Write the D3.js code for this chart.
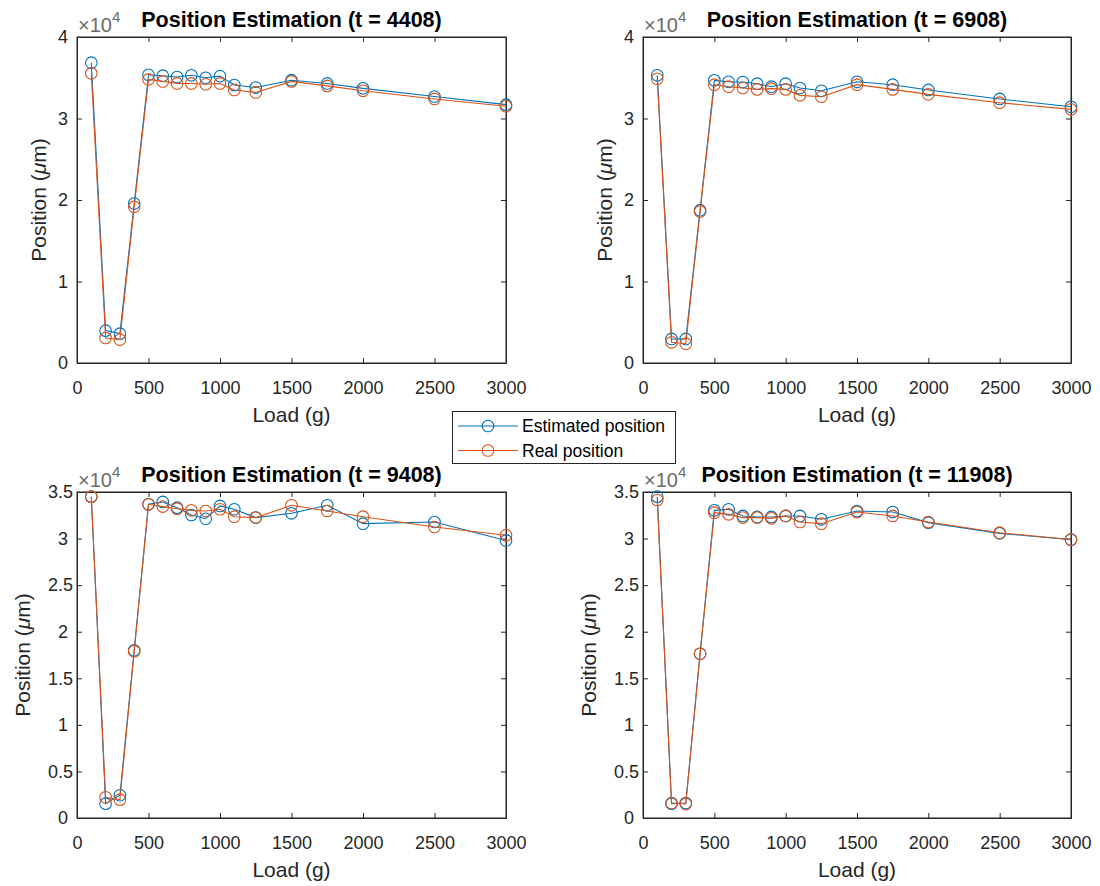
<!DOCTYPE html>
<html>
<head>
<meta charset="utf-8">
<script src="https://cdn.jsdelivr.net/npm/d3@7"></script>
<style>
  html, body { margin: 0; padding: 0; background: #fff; }
  svg { display: block; font-family: "Liberation Sans", Arial, Helvetica, sans-serif; }
</style>
</head>
<body>
<svg id="chart" width="1100" height="886"></svg>
<script>
// ---- data (positions in µm) ----
const loads = [100, 200, 300, 400, 500, 600, 700, 800, 900, 1000, 1100, 1250, 1500, 1750, 2000, 2500, 3000];

const titles = ["Position Estimation (t = 4408)", "Position Estimation (t = 6908)",
                "Position Estimation (t = 9408)", "Position Estimation (t = 11908)"];

const est4408  = [36850, 3970, 3600, 19570, 35370, 35250, 35090, 35300, 35000, 35200, 34100, 33800, 34700, 34300, 33700, 32700, 31700];
const real4408 = [35540, 3070, 2870, 19160, 34800, 34550, 34300, 34300, 34200, 34300, 33500, 33200, 34550, 34000, 33400, 32400, 31500];

const est6908  = [35300, 2950, 2950, 18750, 34680, 34500, 34470, 34270, 33900, 34270, 33740, 33400, 34500, 34150, 33500, 32400, 31440];
const real6908 = [34880, 2540, 2370, 18590, 34150, 33900, 33740, 33570, 33660, 33570, 32840, 32670, 34150, 33570, 32960, 31940, 31120];

const est9408  = [34500, 1540, 2440, 18000, 33680, 33930, 33320, 32530, 32130, 33500, 33150, 32250, 32710, 33570, 31600, 31780, 29800];
const real9408 = [34500, 2220, 1970, 17900, 33680, 33430, 33210, 33030, 32960, 33150, 32350, 32250, 33570, 32960, 32350, 31240, 30350];

const est11908  = [34500, 1540, 1610, 17630, 33030, 33140, 32430, 32320, 32320, 32430, 32430, 32070, 32960, 32850, 31710, 30560, 29880];
const real11908 = [34140, 1610, 1500, 17630, 32780, 32600, 32250, 32250, 32170, 32430, 31780, 31600, 32850, 32430, 31780, 30630, 29900];

const xTicks = [0, 500, 1000, 1500, 2000, 2500, 3000];
const yTicksTop = [0, 10000, 20000, 30000, 40000];
const yTicksBottom = [0, 5000, 10000, 15000, 20000, 25000, 30000, 35000];
const yMaxTop = 40000, yMaxBottom = 35000;

const seriesNames = ["Estimated position", "Real position"];
const xLabel = "Load (g)";

// ---- layout / style ----
const colors = ["#0072BD", "#D95319"];
const axisColor = "#262626";
const panels = [
  {x0: 77,  x1: 506,  y0: 37,  y1: 363, est: est4408,  real: real4408,  ticks: yTicksTop,    ymax: yMaxTop,    title: titles[0], lx: 46},
  {x0: 643, x1: 1071, y0: 37,  y1: 363, est: est6908,  real: real6908,  ticks: yTicksTop,    ymax: yMaxTop,    title: titles[1], lx: 612},
  {x0: 77,  x1: 506,  y0: 492, y1: 818, est: est9408,  real: real9408,  ticks: yTicksBottom, ymax: yMaxBottom, title: titles[2], lx: 30},
  {x0: 643, x1: 1071, y0: 492, y1: 818, est: est11908, real: real11908, ticks: yTicksBottom, ymax: yMaxBottom, title: titles[3], lx: 596}
];

const svg = d3.select("#chart");
const tickFont = 18, labelFont = 21, titleFont = 21.5, tickLen = 5, markerR = 5.8;
const fmt = v => String(+(v / 1e4).toFixed(2));

panels.forEach((p, i) => {
  const x = d3.scaleLinear().domain([0, 3000]).range([p.x0, p.x1]);
  const y = d3.scaleLinear().domain([0, p.ymax]).range([p.y1, p.y0]);
  const g = svg.append("g");

  // axis box
  g.append("rect").attr("x", p.x0).attr("y", p.y0)
    .attr("width", p.x1 - p.x0).attr("height", p.y1 - p.y0)
    .attr("fill", "#fff").attr("stroke", axisColor).attr("stroke-width", 1);

  // bottom axis (ticks inward), with labels
  const xAxis = d3.axisBottom(x).tickValues(xTicks).tickSizeInner(-tickLen).tickSizeOuter(0)
    .tickFormat(d3.format("d"));
  const gx = g.append("g").attr("transform", `translate(0,${p.y1})`).call(xAxis);
  // top mirror ticks
  const gxt = g.append("g").attr("transform", `translate(0,${p.y0})`)
    .call(d3.axisTop(x).tickValues(xTicks).tickSizeInner(-tickLen).tickSizeOuter(0).tickFormat(""));
  // left axis
  const yAxis = d3.axisLeft(y).tickValues(p.ticks).tickSizeInner(-tickLen).tickSizeOuter(0)
    .tickFormat(fmt);
  const gy = g.append("g").attr("transform", `translate(${p.x0},0)`).call(yAxis);
  // right mirror ticks
  const gyr = g.append("g").attr("transform", `translate(${p.x1},0)`)
    .call(d3.axisRight(y).tickValues(p.ticks).tickSizeInner(-tickLen).tickSizeOuter(0).tickFormat(""));

  [gx, gxt, gy, gyr].forEach(a => {
    a.select(".domain").attr("stroke", axisColor);
    a.selectAll(".tick line").attr("stroke", axisColor);
    a.selectAll(".tick text").attr("fill", axisColor).attr("font-size", tickFont)
      .attr("font-family", "Liberation Sans, Arial, sans-serif");
  });
  gx.selectAll(".tick text").attr("dy", "0.71em").attr("y", 18);
  // MATLAB-like offsets: integer labels sit further from the axis than decimal ones
  gy.selectAll(".tick text").attr("x", d => (d % 10000 === 0 ? -9 : -4));

  // exponent label
  const ex = g.append("text").attr("x", p.x0 + 1).attr("y", p.y0 - 5)
    .attr("fill", "#6b6b6b").attr("font-size", 20);
  ex.append("tspan").text("\u00D710");
  ex.append("tspan").attr("dy", -10).attr("font-size", 15).text("4");

  // title
  g.append("text").attr("x", (p.x0 + p.x1) / 2).attr("y", p.y0 - 10)
    .attr("text-anchor", "middle").attr("font-weight", "bold").attr("font-size", titleFont)
    .attr("fill", "#000").text(p.title);

  // x label
  g.append("text").attr("x", (p.x0 + p.x1) / 2).attr("y", p.y1 + 59)
    .attr("text-anchor", "middle").attr("font-size", labelFont).attr("fill", axisColor).text(xLabel);

  // y label
  const yl = g.append("text")
    .attr("transform", `translate(${p.lx},${(p.y0 + p.y1) / 2}) rotate(-90)`)
    .attr("text-anchor", "middle").attr("font-size", labelFont).attr("fill", axisColor);
  yl.append("tspan").text("Position (");
  yl.append("tspan").attr("font-style", "italic").text("\u03BC");
  yl.append("tspan").text("m)");

  // series
  const line = d3.line().x((d, k) => x(loads[k])).y(d => y(d));
  [p.est, p.real].forEach((vals, s) => {
    g.append("path").datum(vals).attr("d", line)
      .attr("fill", "none").attr("stroke", colors[s]).attr("stroke-width", 1.1);
    g.selectAll(null).data(vals).enter().append("circle")
      .attr("cx", (d, k) => x(loads[k])).attr("cy", d => y(d)).attr("r", markerR)
      .attr("fill", "none").attr("stroke", colors[s]).attr("stroke-width", 1.1);
  });
});

// legend
const lg = svg.append("g");
lg.append("rect").attr("x", 452.5).attr("y", 411.5).attr("width", 223).attr("height", 52)
  .attr("fill", "#fff").attr("stroke", axisColor).attr("stroke-width", 1);
seriesNames.forEach((name, s) => {
  const yy = 426 + s * 24.5;
  lg.append("line").attr("x1", 458).attr("x2", 518).attr("y1", yy).attr("y2", yy)
    .attr("stroke", colors[s]).attr("stroke-width", 1.1);
  lg.append("circle").attr("cx", 488).attr("cy", yy).attr("r", markerR)
    .attr("fill", "none").attr("stroke", colors[s]).attr("stroke-width", 1.1);
  lg.append("text").attr("x", 522).attr("y", yy).attr("dy", "0.35em")
    .attr("font-size", tickFont - 0.5).attr("fill", "#000").text(name);
});
</script>
</body>
</html>
